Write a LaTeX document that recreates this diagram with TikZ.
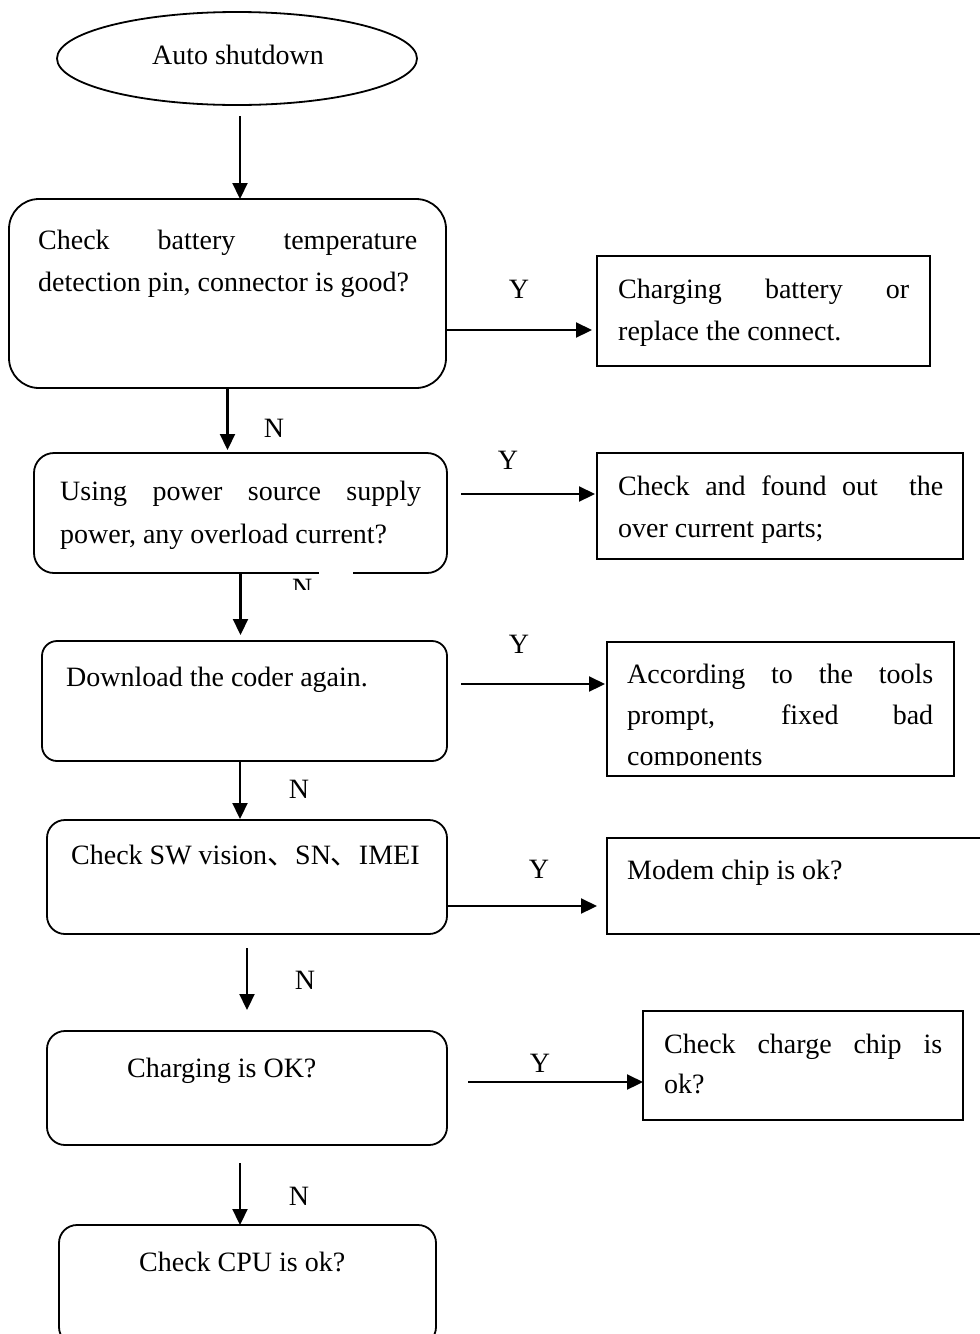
\documentclass[tikz,border=0pt]{standalone}
\usepackage{fontspec}
\setmainfont{Liberation Serif}
\newfontfamily\cjk{Noto Sans CJK SC}
\usetikzlibrary{shapes.geometric,arrows.meta}
\begin{document}
\begin{tikzpicture}[x=1pt,y=-1pt,
  rbox/.style={draw, line width=1.8pt, rounded corners=#1, inner sep=0pt, outer sep=0pt},
  sbox/.style={draw, line width=1.8pt, inner sep=0pt, outer sep=0pt},
  txt/.style={anchor=base west, inner sep=0pt, font=\fontsize{28}{42}\selectfont},
  lbl/.style={anchor=base, inner sep=0pt, font=\fontsize{28}{42}\selectfont},
  arr/.style={line width=2.2pt, -{Triangle[length=16pt,width=15pt]}}]
\useasboundingbox (0,0) rectangle (980,1334);
\clip (0,0) rectangle (980,1334);
\fill[white] (0,0) rectangle (980,1334);

% start
\node[draw, ellipse, line width=1.8pt, minimum width=360pt, minimum height=93pt, inner sep=0pt, outer sep=0pt] (e) at (237,58.5) {};
\node[lbl] (te) at (238,64) {Auto shutdown};

% main column boxes
\node[rbox=30pt, minimum width=437pt, minimum height=189pt] (b1) at (227.5,293.5) {};
\node[txt] (t1a) at (38,249) {\makebox[379pt][s]{Check battery temperature}};
\node[txt] (t1b) at (38,291) {detection pin, connector is good?};

\node[rbox=20pt, minimum width=413pt, minimum height=120pt] (b2) at (240.5,513) {};
\node[txt] (t2a) at (60,500) {\makebox[361pt][s]{Using power source supply}};
\node[txt] (t2b) at (60,543) {power, any overload current?};

\node[rbox=15pt, minimum width=405pt, minimum height=120pt] (b3) at (244.5,701) {};
\node[txt] (t3) at (66,686) {Download the coder again.};

\node[rbox=18pt, minimum width=400pt, minimum height=114pt] (b4) at (247,877) {};
\node[txt] (t4) at (71,864) {Check SW vision{\cjk 、}SN{\cjk 、}IMEI};

\node[rbox=18pt, minimum width=400pt, minimum height=114pt] (b5) at (247,1088) {};
\node[txt] (t5) at (127,1077) {Charging is OK?};

\node[rbox=18pt, minimum width=377pt, minimum height=120pt] (b6) at (247.5,1285) {};
\node[txt] (t6) at (139,1271) {Check CPU is ok?};

% right column boxes
\node[sbox, minimum width=333pt, minimum height=110pt] (r1) at (763.5,311) {};
\node[txt] (s1a) at (618,298) {\makebox[291pt][s]{Charging battery or}};
\node[txt] (s1b) at (618,340) {replace the connect.};

\node[sbox, minimum width=366pt, minimum height=106pt] (r2) at (780,506) {};
\node[txt] (s2a) at (618,495) {\makebox[325pt][s]{Check and found out\ \ the}};
\node[txt] (s2b) at (618,537) {over current parts;};

\node[sbox, minimum width=347pt, minimum height=134pt] (r3) at (780.5,709) {};
\node[txt] (s3a) at (627,683) {\makebox[306pt][s]{According to the tools}};
\node[txt] (s3b) at (627,724) {\makebox[306pt][s]{prompt, fixed bad}};
\begin{scope}
\clip (608,740) rectangle (953,765.5);
\node[txt] (s3c) at (627,765) {components};
\end{scope}

\node[sbox, minimum width=388pt, minimum height=96pt] (r4) at (801,886) {};
\node[txt] (s4) at (627,879) {Modem chip is ok?};

\node[sbox, minimum width=320pt, minimum height=109pt] (r5) at (803,1065.5) {};
\node[txt] (s5a) at (664,1053) {\makebox[278pt][s]{Check charge chip is}};
\node[txt] (s5b) at (664,1093) {ok?};

% gap in the bottom border of b2 with the clipped N
\fill[white] (319,569) rectangle (353,577);
\begin{scope}
\clip (285,577) rectangle (320,589);
\node[txt] (nc) at (292,597.5) {N};
\end{scope}

% vertical connectors
\draw[arr, shorten <=11pt] ([xshift=3pt]e.south) -- ([xshift=3pt]e.south |- b1.north);
\draw[arr, shorten >=3pt] (b1.south) -- (b1.south |- b2.north);
\draw[arr, shorten >=6pt] (b2.south) -- (b2.south |- b3.north);
\draw[arr, shorten >=1pt] ([xshift=-4.5pt]b3.south) -- ([xshift=-4.5pt]b3.south |- b4.north);
\draw[arr, shorten <=14pt, shorten >=21pt] (b4.south) -- (b4.south |- b5.north);
\draw[arr, shorten <=18pt] ([xshift=-7pt]b5.south) -- ([xshift=-7pt]b5.south |- b6.north);

% horizontal connectors
\draw[arr, shorten >=5pt] ([yshift=-36.5pt]b1.east) -- ([yshift=-36.5pt]b1.east -| r1.west);
\draw[arr, shorten <=14pt, shorten >=2pt] ([yshift=19pt]b2.east) -- ([yshift=19pt]b2.east -| r2.west);
\draw[arr, shorten <=14pt, shorten >=2pt] ([yshift=17pt]b3.east) -- ([yshift=17pt]b3.east -| r3.west);
\draw[arr, shorten >=10pt] ([yshift=-29pt]b4.east) -- ([yshift=-29pt]b4.east -| r4.west);
\draw[arr, shorten <=21pt] ([yshift=6pt]b5.east) -- ([yshift=6pt]b5.east -| r5.west);

% labels
\node[lbl] (y1) at (519,298) {Y};
\node[lbl] (y2) at (508,469) {Y};
\node[lbl] (y3) at (519,653) {Y};
\node[lbl] (y4) at (539,878) {Y};
\node[lbl] (y5) at (540,1072) {Y};
\node[lbl] (n1) at (274,437) {N};
\node[lbl] (n3) at (299,798) {N};
\node[lbl] (n4) at (305,989) {N};
\node[lbl] (n5) at (299,1205) {N};
\end{tikzpicture}
\end{document}
